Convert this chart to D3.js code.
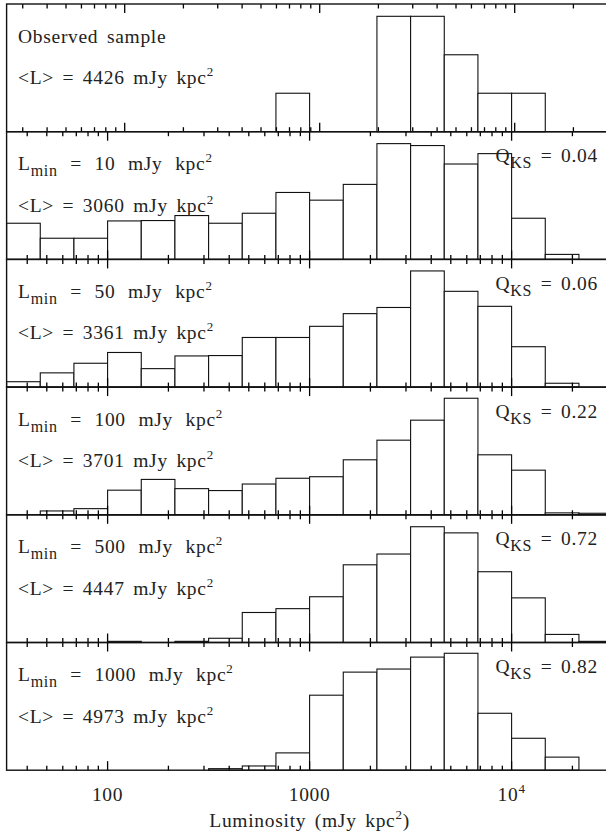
<!DOCTYPE html>
<html>
<head>
<meta charset="utf-8">
<script src="https://cdn.jsdelivr.net/npm/d3@7"></script>
<style>
  body { margin: 0; background: #fff; }
  text { font-family: "Liberation Serif", serif; fill: #222; }
</style>
</head>
<body>
<div id="chart"></div>
<script>
// bins: 6 per decade, lower edge exponent k/6
var binK = [9, 10, 11, 12, 13, 14, 15, 16, 17, 18, 19, 20, 21, 22, 23, 24, 25, 26];

// heights in units of one observed galaxy (sims scaled to same peak)
var observed = [0, 0, 0, 0, 0, 0, 0, 0, 1, 0, 0, 3, 3, 2, 1, 1, 0, 0];
var lmin10   = [0.94, 0.55, 0.55, 1.00, 1.01, 1.14, 0.94, 1.20, 1.74, 1.54, 1.95, 3.01, 2.96, 2.48, 2.75, 1.07, 0.13, 0];
var lmin50   = [0.14, 0.37, 0.62, 0.90, 0.48, 0.81, 0.82, 1.29, 1.29, 1.58, 1.91, 2.07, 3.02, 2.49, 2.10, 1.05, 0.10, 0];
var lmin100  = [0, 0.10, 0.16, 0.64, 0.92, 0.68, 0.63, 0.80, 0.95, 0.99, 1.43, 1.94, 2.46, 3.03, 1.56, 1.16, 0.05, 0.04];
var lmin500  = [0, 0, 0, 0.03, 0, 0.03, 0.11, 0.78, 0.88, 1.19, 2.02, 2.30, 3.01, 2.85, 1.84, 1.16, 0.21, 0.03];
var lmin1000 = [0, 0, 0, 0, 0, 0, 0.04, 0.11, 0.45, 1.95, 2.55, 2.63, 2.94, 3.04, 1.48, 0.83, 0.34, 0];

var series = [observed, lmin10, lmin50, lmin100, lmin500, lmin1000];
var lminText = [null, "10", "50", "100", "500", "1000"];
var meanText = ["4426", "3060", "3361", "3701", "4447", "4973"];
var qksText  = [null, "0.04", "0.06", "0.22", "0.72", "0.82"];
var axisLabels = [100, 1000, 10000];
var decades = [10, 100, 1000, 10000];
var mults = [1, 2, 3, 4, 5, 6, 7, 8, 9];

var width = 606, height = 833;
var x0 = 6.6, x1 = 612.6, y0 = 4, panelH = 127.7;

var x = d3.scaleLog()
  .domain([Math.pow(10, 1.5), Math.pow(10, 4.5)])
  .range([x0, x1]);

// the top panel's tick marks sit on a slightly different scale
var xTop = d3.scaleLog()
  .domain([1000, 10000])
  .range([319.7, 514.7]);

var y = d3.scaleLinear()
  .domain([0, 3.32])
  .range([panelH, 0]);

var svg = d3.select("#chart").append("svg")
  .attr("width", width)
  .attr("height", height);

var tickVals = [];
decades.forEach(function (d) {
  mults.forEach(function (m) { tickVals.push({v: d * m, major: m === 1}); });
});

function drawPanel(i) {
  var g = svg.append("g")
    .attr("transform", "translate(0," + (y0 + i * panelH) + ")");

  var data = series[i].map(function (v, j) {
    return {lo: Math.pow(10, binK[j] / 6), hi: Math.pow(10, (binK[j] + 1) / 6), v: v};
  }).filter(function (d) { return d.v > 0; });

  g.selectAll(".bar")
    .data(data)
    .enter().append("rect")
    .attr("class", "bar")
    .attr("x", function (d) { return x(d.lo); })
    .attr("width", function (d) { return x(d.hi) - x(d.lo); })
    .attr("y", function (d) { return y(d.v); })
    .attr("height", function (d) { return y(0) - y(d.v); })
    .style("fill", "#fff")
    .style("stroke", "#111")
    .style("stroke-width", 1.1);

  var ts = i === 0 ? xTop : x;
  var tv = tickVals.filter(function (d) {
    var px = ts(d.v);
    return px > x0 + 1 && px < x1 - 1;
  });

  // ticks on top edge, pointing down
  g.selectAll(".ttop")
    .data(tv)
    .enter().append("line")
    .attr("class", "ttop")
    .attr("x1", function (d) { return ts(d.v); })
    .attr("x2", function (d) { return ts(d.v); })
    .attr("y1", 0)
    .attr("y2", function (d) { return d.major ? 9 : 4.5; })
    .style("stroke", "#000")
    .style("stroke-width", 1.3);

  // ticks on bottom edge, pointing up
  g.selectAll(".tbot")
    .data(tv)
    .enter().append("line")
    .attr("class", "tbot")
    .attr("x1", function (d) { return ts(d.v); })
    .attr("x2", function (d) { return ts(d.v); })
    .attr("y1", panelH)
    .attr("y2", function (d) { return panelH - (d.major ? 9 : 4.5); })
    .style("stroke", "#000")
    .style("stroke-width", 1.3);

  g.append("rect")
    .attr("x", x0).attr("y", 0)
    .attr("width", x1 - x0).attr("height", panelH)
    .style("fill", "none")
    .style("stroke", "#111")
    .style("stroke-width", 1.4);

  // labels
  var fs = 19.5;
  var t1 = g.append("text")
    .attr("x", 18).attr("y", 38.5)
    .style("font-size", fs + "px")
    .style("letter-spacing", "0.7px")
    .style("word-spacing", "3px");
  if (i === 0) {
    t1.text("Observed sample");
  } else {
    t1.style("word-spacing", "7px");
    t1.append("tspan").text("L");
    t1.append("tspan").attr("dy", 6).style("font-size", "16px").text("min");
    t1.append("tspan").attr("dy", -6).text(" = " + lminText[i] + " mJy kpc");
    t1.append("tspan").attr("dy", -8).style("font-size", "13px").text("2");
  }

  var t2 = g.append("text")
    .attr("x", 18).attr("y", 80)
    .style("font-size", fs + "px")
    .style("letter-spacing", "0.7px")
    .style("word-spacing", "3px");
  t2.append("tspan").text("<L>  =  " + meanText[i] + " mJy kpc");
  t2.append("tspan").attr("dy", -8).style("font-size", "13px").text("2");

  if (qksText[i]) {
    var t3 = g.append("text")
      .attr("x", 598).attr("y", 30.6)
      .attr("text-anchor", "end")
      .style("font-size", fs + "px")
      .style("letter-spacing", "0.7px")
      .style("word-spacing", "3px");
    t3.append("tspan").text("Q");
    t3.append("tspan").attr("dy", 6).style("font-size", "16px").text("KS");
    t3.append("tspan").attr("dy", -6).text(" =  " + qksText[i]);
  }
}

for (var i = 0; i < series.length; i++) drawPanel(i);

var axisY = y0 + 6 * panelH;

axisLabels.forEach(function (v) {
  var t = svg.append("text")
    .attr("x", x(v)).attr("y", axisY + 31)
    .attr("text-anchor", "middle")
    .style("font-size", "19.5px")
    .style("letter-spacing", "0.7px");
  if (v < 10000) {
    t.text(v);
  } else {
    t.append("tspan").text("10");
    t.append("tspan").attr("dy", -8).style("font-size", "13px").text("4");
  }
});

var xt = svg.append("text")
  .attr("x", x(1000)).attr("y", axisY + 57)
  .attr("text-anchor", "middle")
  .style("font-size", "19.5px")
  .style("letter-spacing", "0.7px")
  .style("word-spacing", "3px");
xt.append("tspan").text("Luminosity (mJy kpc");
xt.append("tspan").attr("dy", -8).style("font-size", "13px").text("2");
xt.append("tspan").attr("dy", 8).text(")");
</script>
</body>
</html>
